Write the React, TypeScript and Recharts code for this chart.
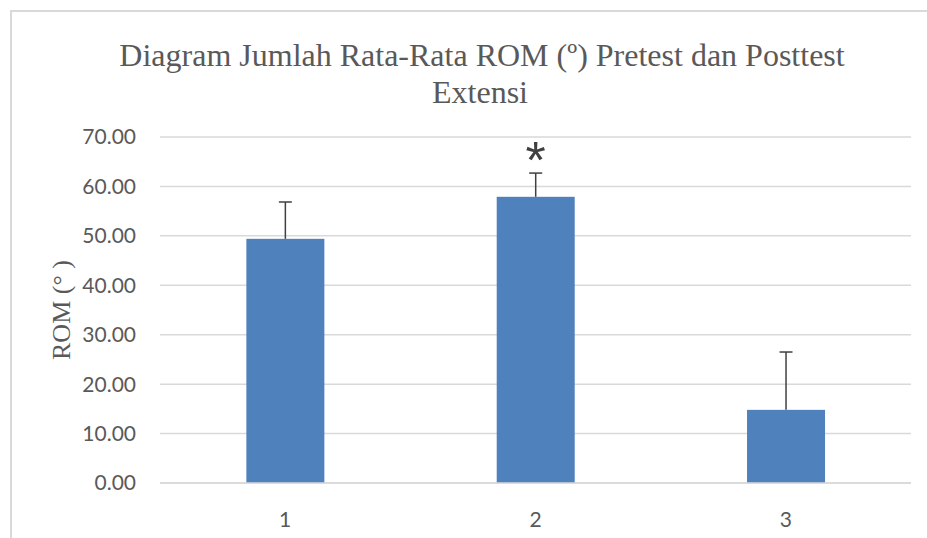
import { Bar, BarChart, CartesianGrid, XAxis, YAxis } from "recharts"

const CATEGORIES = ["1", "2", "3"]
const MEANS = [49.4, 57.9, 14.8]
const SD_UP = [7.45, 4.8, 11.7]
const MARKS = ["", "*", ""]
const Y_TICKS = [0, 10, 20, 30, 40, 50, 60, 70]

const data = CATEGORIES.map((c, i) => ({
  name: c,
  mean: MEANS[i],
  sd: SD_UP[i],
  mark: MARKS[i],
}))

const GRID = "#d9d9d9"
const TEXT = "#595959"
const SERIF = '"Liberation Serif", "DejaVu Serif", serif'

// bar + upward-only error whisker (no lower cap) + optional significance mark
function BarWithError(props: any) {
  const { x, y, width, height, fill, payload } = props
  const pxPerUnit = height / payload.mean
  const cx = x + width / 2
  const top = y - payload.sd * pxPerUnit
  return (
    <g>
      <rect x={x} y={y} width={width} height={height} fill={fill} />
      <line x1={cx} y1={y} x2={cx} y2={top} stroke="#404040" strokeWidth={1.5} />
      <line x1={cx - 6.5} y1={top} x2={cx + 6.5} y2={top} stroke="#404040" strokeWidth={1.5} />
      {payload.mark ? (
        <text x={cx} y={top + 5} textAnchor="middle" fontFamily="Liberation Sans" fontSize={52} fill="#404040">
          {payload.mark}
        </text>
      ) : null}
    </g>
  )
}

export default function App() {
  return (
    <div style={{ position: "absolute", left: 0, top: 0, width: 927, height: 538, background: "#fff", overflow: "hidden" }}>
      <div
        style={{
          position: "absolute",
          left: 10,
          top: 10,
          width: 930,
          height: 560,
          borderLeft: `2px solid ${GRID}`,
          borderTop: `2px solid ${GRID}`,
        }}
      />
      <div style={{ position: "absolute", left: 0, top: 0 }}>
        <BarChart
          width={927}
          height={538}
          data={data}
          barCategoryGap="34.5%"
          margin={{ top: 137, right: 16, left: 80, bottom: 25 }}
        >
          <text x={482} y={66} textAnchor="middle" fontFamily="Liberation Serif" fontSize={32} fill={TEXT}>
            Diagram Jumlah Rata-Rata ROM (º) Pretest dan Posttest
          </text>
          <text x={480} y={103} textAnchor="middle" style={{ fontFamily: SERIF }} fontSize={32} fill={TEXT}>
            Extensi
          </text>
          <CartesianGrid vertical={false} stroke={GRID} strokeWidth={1.5} />
          <XAxis
            dataKey="name"
            axisLine={{ stroke: GRID, strokeWidth: 1.5 }}
            tickLine={false}
            tickSize={0}
            tickMargin={29}
            height={30}
            tick={{ fontFamily: "Lato", fontSize: 21, fill: TEXT }}
          />
          <YAxis
            domain={[0, 70]}
            ticks={Y_TICKS}
            tickFormatter={(v: number) => v.toFixed(2)}
            axisLine={false}
            tickLine={false}
            tickSize={0}
            tickMargin={24}
            width={80}
            tick={{ fontFamily: "Lato", fontSize: 21, fill: TEXT }}
            label={{
              value: "ROM (° )",
              content: ({ viewBox }: any) => {
                const cx = viewBox.x - 19
                const cy = viewBox.y + viewBox.height / 2
                return (
                  <text
                    x={cx}
                    y={cy}
                    transform={`rotate(-90 ${cx} ${cy})`}
                    textAnchor="middle"
                    dominantBaseline="central"
                    style={{ fontFamily: SERIF }}
                    fontSize={26}
                    fill={TEXT}
                  >
                    ROM (° )
                  </text>
                )
              },
            }}
          />
          <Bar dataKey="mean" fill="#4f81bd" isAnimationActive={false} shape={BarWithError} />
        </BarChart>
      </div>
    </div>
  )
}
